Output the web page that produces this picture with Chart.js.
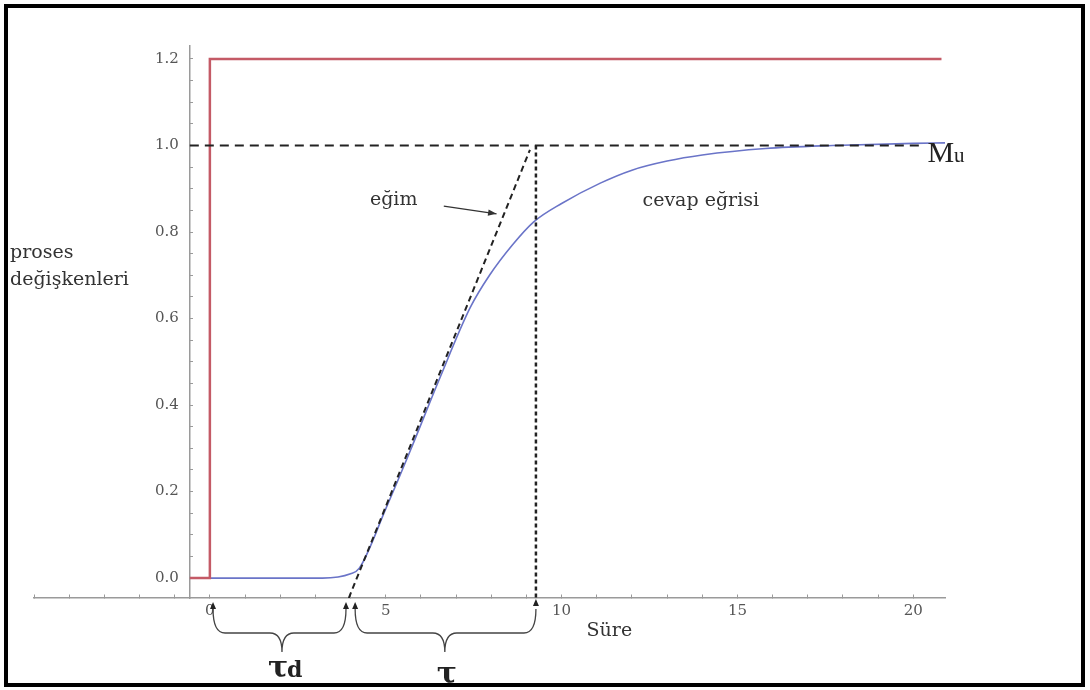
<!DOCTYPE html>
<html>
<head>
<meta charset="utf-8">
<script src="https://cdn.jsdelivr.net/npm/chart.js@4"></script>
<style>
  html, body { margin: 0; padding: 0; background: #fff; }
  canvas { display: block; }
</style>
</head>
<body>
<canvas id="chart" width="1090" height="690"></canvas>
<script>
// basamak girdi (kırmızı)
const stepTime = [-0.57, 0, 0, 20.8];
const stepValue = [0, 0, 1.2, 1.2];

// cevap eğrisi (mavi)
const responseTime = [0, 3.2, 4.0, 4.25, 5.0, 5.7, 6.55, 7.4, 7.95, 8.6, 9.2, 10.0, 11.1, 12.0, 13.0, 14.0, 15.8, 17.7, 20.0, 20.9];
const responseValue = [0, 0, 0.01, 0.023, 0.16, 0.295, 0.465, 0.625, 0.70, 0.77, 0.823, 0.866, 0.913, 0.943, 0.964, 0.978, 0.993, 1.0, 1.005, 1.006];

// Mu seviyesi, eğim doğrusu, tau çizgisi
const finalTime = [-0.57, 20.25];
const finalValue = [1, 1];
const slopeTime = [3.95, 9.1];
const slopeValue = [-0.046, 0.99];
const tauTime = [9.27, 9.27];
const tauValue = [1, -0.046];

// eksen etiketleri
const xTickValues = [-5, -4, -3, -2, -1, 0, 1, 2, 3, 4, 5, 6, 7, 8, 9, 10, 11, 12, 13, 14, 15, 16, 17, 18, 19, 20];
const xLabelTicks = [0, 5, 10, 15, 20];
const xTickLabels = ['0', '5', '10', '15', '20'];
const yLabelTicks = [0, 0.2, 0.4, 0.6, 0.8, 1.0, 1.2];
const yTickLabels = ['0.0', '0.2', '0.4', '0.6', '0.8', '1.0', '1.2'];

const toPoints = (xs, ys) => xs.map((x, i) => ({ x: x, y: ys[i] }));

const axisGray = '#9a9a9a';
const serif = 'DejaVu Serif';
const yAxisAt = -0.57;

function arrowUp(ctx, x, yTip) {
  ctx.beginPath();
  ctx.moveTo(x, yTip);
  ctx.lineTo(x - 3, yTip + 7);
  ctx.lineTo(x + 3, yTip + 7);
  ctx.closePath();
  ctx.fill();
}

function brace(ctx, x1, x2, xm, yTop, yH, yTip) {
  const r = 12;
  ctx.beginPath();
  ctx.moveTo(x1, yTop);
  ctx.quadraticCurveTo(x1, yH, x1 + r, yH);
  ctx.lineTo(xm - r, yH);
  ctx.quadraticCurveTo(xm, yH, xm, yTip);
  ctx.quadraticCurveTo(xm, yH, xm + r, yH);
  ctx.lineTo(x2 - r, yH);
  ctx.quadraticCurveTo(x2, yH, x2, yTop);
  ctx.stroke();
}

const notes = {
  id: 'notes',
  afterDraw(chart) {
    const { ctx } = chart;
    const x = chart.scales.x;
    const y = chart.scales.y;
    const px = (t) => x.getPixelForValue(t);
    const py = (v) => y.getPixelForValue(v);
    const axisY = py(-0.046);

    ctx.save();

    // y ekseni etiketleri
    ctx.fillStyle = '#555';
    ctx.font = '15px ' + serif;
    ctx.textAlign = 'right';
    ctx.textBaseline = 'middle';
    yLabelTicks.forEach((v, i) => ctx.fillText(yTickLabels[i], px(yAxisAt) - 11, py(v)));

    ctx.fillStyle = '#333';
    ctx.textBaseline = 'alphabetic';
    ctx.textAlign = 'left';

    // eksen başlıkları
    ctx.font = '19px ' + serif;
    ctx.fillText('proses', 10, 258);
    ctx.fillText('değişkenleri', 10, 285);
    ctx.fillText('Süre', px(10.71), axisY + 38);

    // eğim
    ctx.fillText('eğim', px(4.55), py(0.862));
    ctx.fillText('cevap eğrisi', px(12.3), py(0.86));

    ctx.strokeStyle = '#333';
    ctx.lineWidth = 1.3;
    const ax1 = px(6.65), ay1 = py(0.86), ax2 = px(8.15), ay2 = py(0.842);
    ctx.beginPath();
    ctx.moveTo(ax1, ay1);
    ctx.lineTo(ax2, ay2);
    ctx.stroke();
    const ang = Math.atan2(ay2 - ay1, ax2 - ax1);
    ctx.beginPath();
    ctx.moveTo(ax2, ay2);
    ctx.lineTo(ax2 - 9 * Math.cos(ang - 0.35), ay2 - 9 * Math.sin(ang - 0.35));
    ctx.lineTo(ax2 - 9 * Math.cos(ang + 0.35), ay2 - 9 * Math.sin(ang + 0.35));
    ctx.closePath();
    ctx.fill();

    // Mu
    ctx.fillStyle = '#222';
    ctx.font = '30px Liberation Serif';
    const mx = px(20.4);
    ctx.fillText('M', mx, py(0.962));
    const mw = ctx.measureText('M').width;
    ctx.font = '21px Liberation Serif';
    ctx.fillText('u', mx + mw, py(0.962));

    // süslü parantezler
    ctx.strokeStyle = '#444';
    ctx.fillStyle = '#222';
    ctx.lineWidth = 1.3;
    brace(ctx, px(0.09), px(3.87), px(2.05), axisY + 11, axisY + 35, axisY + 54);
    brace(ctx, px(4.13), px(9.27), px(6.68), axisY + 11, axisY + 35, axisY + 54);
    arrowUp(ctx, px(0.09), axisY + 4);
    arrowUp(ctx, px(3.87), axisY + 4);
    arrowUp(ctx, px(4.13), axisY + 4);
    arrowUp(ctx, px(9.27), axisY + 1);

    ctx.fillStyle = '#222';
    ctx.font = 'bold 30px ' + serif;
    ctx.fillText('τ', px(1.65), axisY + 79);
    const tw = ctx.measureText('τ').width;
    ctx.font = 'bold 22px ' + serif;
    ctx.fillText('d', px(1.65) + tw - 1, axisY + 79);
    ctx.font = 'bold 30px ' + serif;
    ctx.fillText('τ', px(6.45), axisY + 85);

    // çerçeve
    ctx.strokeStyle = '#000';
    ctx.lineWidth = 4;
    ctx.strokeRect(6, 6, 1077, 679);
    ctx.restore();
  }
};

new Chart(document.getElementById('chart'), {
  type: 'line',
  data: {
    datasets: [
      {
        data: toPoints(finalTime, finalValue),
        borderColor: '#222',
        borderWidth: 1.8,
        borderDash: [9, 6]
      },
      {
        data: toPoints(slopeTime, slopeValue),
        borderColor: '#222',
        borderWidth: 2,
        borderDash: [6, 4]
      },
      {
        data: toPoints(tauTime, tauValue),
        borderColor: '#222',
        borderWidth: 2.5,
        borderDash: [4, 3]
      },
      {
        data: toPoints(stepTime, stepValue),
        borderColor: '#c45a66',
        borderWidth: 2.5
      },
      {
        data: toPoints(responseTime, responseValue),
        borderColor: '#6a74c8',
        borderWidth: 1.6,
        cubicInterpolationMode: 'monotone'
      }
    ]
  },
  options: {
    responsive: false,
    animation: false,
    devicePixelRatio: 1,
    layout: { padding: { left: 34, right: 145, top: 46, bottom: 92 } },
    elements: { point: { radius: 0 }, line: { tension: 0 } },
    plugins: { legend: { display: false }, tooltip: { enabled: false } },
    scales: {
      x: {
        type: 'linear',
        min: -5,
        max: 20.9,
        position: { y: -0.046 },
        afterBuildTicks: (axis) => { axis.ticks = xTickValues.map((v) => ({ value: v })); },
        border: { color: axisGray, width: 1.5 },
        grid: { drawOnChartArea: false, tickLength: -4, color: axisGray },
        ticks: {
          autoSkip: false,
          maxRotation: 0,
          padding: 8,
          color: '#555',
          font: { family: serif, size: 15 },
          callback: (value) => {
            const i = xLabelTicks.indexOf(value);
            return i >= 0 ? xTickLabels[i] : '';
          }
        }
      },
      y: {
        type: 'linear',
        min: -0.046,
        max: 1.23,
        position: { x: yAxisAt },
        afterBuildTicks: (axis) => {
          const ticks = [];
          for (let i = 0; i <= 24; i++) ticks.push({ value: Math.round(i * 5) / 100 });
          axis.ticks = ticks;
        },
        border: { color: axisGray, width: 1.5 },
        grid: { drawOnChartArea: false, tickLength: -4, color: axisGray },
        ticks: { autoSkip: false, display: false }
      }
    }
  },
  plugins: [notes]
});
</script>
</body>
</html>
